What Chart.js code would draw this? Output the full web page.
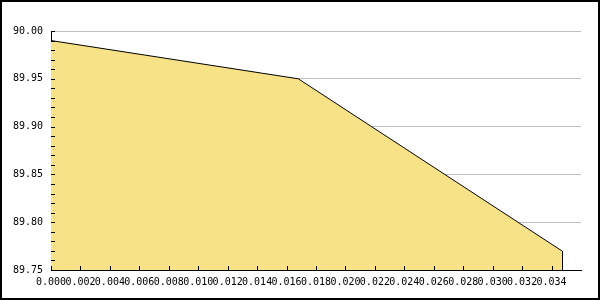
<!DOCTYPE html>
<html><head><meta charset="utf-8">
<script src="https://cdn.jsdelivr.net/npm/chart.js@4"></script>
<style>html,body{margin:0;padding:0;background:#fff}#wrap{width:600px;height:300px}</style>
</head><body><div id="wrap"><canvas id="c" width="600" height="300"></canvas></div>
<script>
const xValues = [0.0, 0.0168, 0.0347];
const yValues = [89.99, 89.95, 89.77];
const xTickMin = 0, xTickMax = 0.036, xStep = 0.002, xLastLabel = 0.034;
const yTickMin = 89.75, yTickMax = 90.00, yMajorStep = 0.05, yMinorStep = 0.01;

const FONT = {family: '"DejaVu Sans Mono", monospace', size: 10};

const frame = {
  id: 'frame',
  afterDraw(chart) {
    const ctx = chart.ctx, a = chart.chartArea;
    ctx.save();
    // right edge of area polygon
    const meta = chart.getDatasetMeta(0);
    const last = meta.data[meta.data.length - 1];
    ctx.strokeStyle = '#000'; ctx.lineWidth = 1;
    ctx.beginPath();
    ctx.moveTo(Math.round(last.x) + 0.5, last.y);
    ctx.lineTo(Math.round(last.x) + 0.5, a.bottom);
    ctx.stroke();
    // inward tick marks
    const xs = chart.scales.x, ys = chart.scales.y;
    ctx.beginPath();
    xs.ticks.forEach(t => {
      if (t.value > xLastLabel + 1e-9) return;
      const px = Math.round(xs.getPixelForValue(t.value)) + 0.5;
      ctx.moveTo(px, a.bottom); ctx.lineTo(px, a.bottom - 4);
    });
    ys.ticks.forEach(t => {
      const py = Math.round(ys.getPixelForValue(t.value)) + 0.5;
      ctx.moveTo(a.left, py); ctx.lineTo(a.left + 4, py);
    });
    ctx.stroke();
    // outer frame
    ctx.lineWidth = 2;
    ctx.strokeRect(1, 1, 598, 298);
    ctx.restore();
  }
};

new Chart(document.getElementById('c'), {
  type: 'line',
  data: {
    datasets: [{
      data: xValues.map((x, i) => ({x, y: yValues[i]})),
      borderColor: '#000',
      borderWidth: 1,
      backgroundColor: 'rgb(247,226,136)',
      fill: 'start',
      pointRadius: 0,
      tension: 0
    }]
  },
  options: {
    responsive: false,
    animation: false,
    events: [],
    layout: {padding: {top: 31, right: 19, left: 0, bottom: 0}},
    plugins: {legend: {display: false}, tooltip: {enabled: false}},
    scales: {
      x: {
        type: 'linear',
        min: xTickMin, max: xTickMax,
        afterFit(s) { s.height = 30; },
        grid: {display: false, drawTicks: false},
        border: {display: true, color: '#000', width: 1},
        ticks: {
          stepSize: xStep, autoSkip: false, maxRotation: 0, minRotation: 0,
          padding: 6, color: '#000', font: FONT,
          callback: v => (v > xLastLabel + 1e-9 ? '' : v.toFixed(3))
        }
      },
      y: {
        min: yTickMin, max: yTickMax,
        afterFit(s) { s.width = 51; },
        grid: {
          drawTicks: false,
          color: ctx => {
            const v = ctx.tick ? ctx.tick.value : 0;
            const k = Math.round((v - yTickMin) / yMinorStep);
            return (k % Math.round(yMajorStep / yMinorStep) === 0 && k > 0) ? '#c0c0c0' : 'rgba(0,0,0,0)';
          }
        },
        border: {display: true, color: '#000', width: 1},
        ticks: {
          stepSize: yMinorStep, autoSkip: false, padding: 8, color: '#000', font: FONT,
          callback: v => {
            const k = Math.round((v - yTickMin) / yMinorStep);
            return k % Math.round(yMajorStep / yMinorStep) === 0 ? v.toFixed(2) : '';
          }
        }
      }
    }
  },
  plugins: [frame]
});
</script></body></html>
